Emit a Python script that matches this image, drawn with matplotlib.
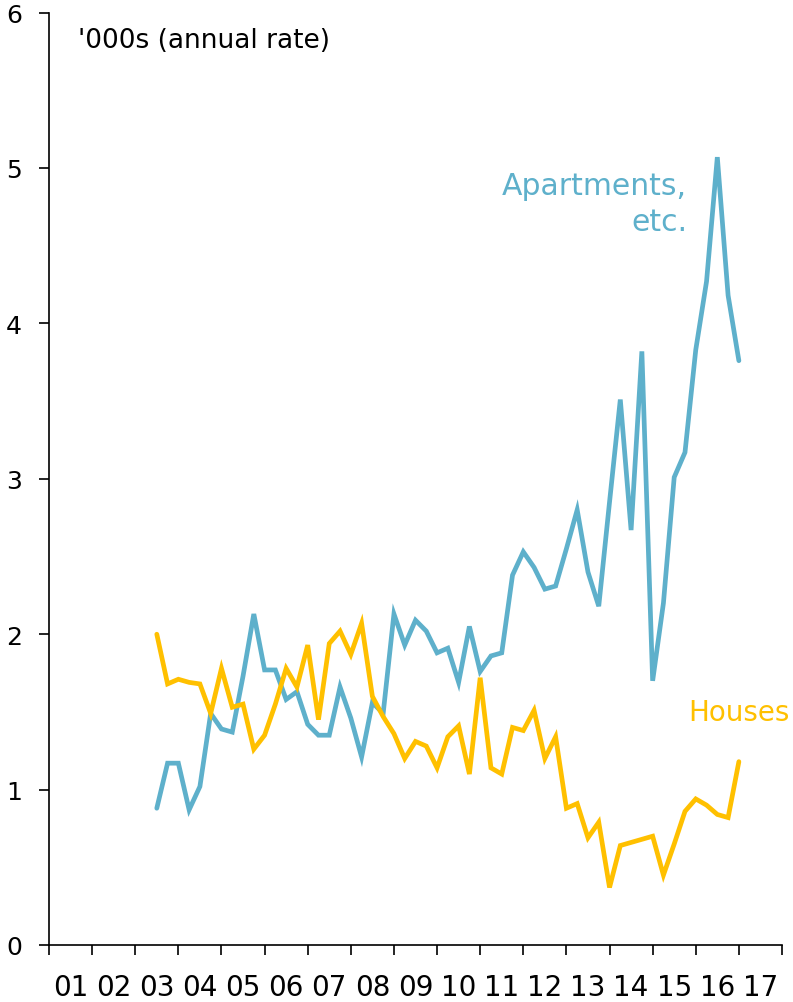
import numpy as np
import matplotlib.pyplot as plt

# quarterly data, 2003 Q3 .. 2017 Q1
apartments = [0.88, 1.17, 1.17, 0.87, 1.02, 1.49, 1.39, 1.37, 1.73, 2.13,
              1.77, 1.77, 1.58, 1.63, 1.42, 1.35, 1.35, 1.66, 1.46, 1.21,
              1.56, 1.49, 2.13, 1.93, 2.09, 2.02, 1.88, 1.91, 1.69, 2.05,
              1.76, 1.86, 1.88, 2.38, 2.53, 2.43, 2.29, 2.31, 2.55, 2.80,
              2.40, 2.18, 2.85, 3.51, 2.67, 3.82, 1.70, 2.20, 3.01, 3.17,
              3.83, 4.27, 5.07, 4.18, 3.76]
houses = [2.00, 1.68, 1.71, 1.69, 1.68, 1.49, 1.78, 1.53, 1.55, 1.26,
          1.35, 1.55, 1.78, 1.66, 1.93, 1.45, 1.94, 2.02, 1.87, 2.07,
          1.60, 1.47, 1.36, 1.20, 1.31, 1.28, 1.14, 1.34, 1.41, 1.10,
          1.72, 1.14, 1.10, 1.40, 1.38, 1.51, 1.20, 1.34, 0.88, 0.91,
          0.69, 0.79, 0.37, 0.64, 0.66, 0.68, 0.70, 0.45, 0.65, 0.86,
          0.94, 0.90, 0.84, 0.82, 1.18]
years = list(range(2001, 2018))
year_labels = ['%02d' % (y % 100) for y in years]

t = 2003.5 + 0.25 * np.arange(len(apartments))

BLUE = '#5EB0CB'
YELLOW = '#FFC000'

fig = plt.figure(figsize=(7.93, 10.03), dpi=100)
ax = fig.add_axes([49/793, 57/1003, 733/793, 932.4/1003])

ax.plot(t, apartments, color=BLUE, lw=3.4, solid_capstyle='round', solid_joinstyle='miter')
ax.plot(t, houses, color=YELLOW, lw=3.4, solid_capstyle='round', solid_joinstyle='miter')

ax.set_xlim(2001, 2018)
ax.set_ylim(0, 6)

for s in ['top', 'right']:
    ax.spines[s].set_visible(False)
for s in ['left', 'bottom']:
    ax.spines[s].set_linewidth(1.2)

ax.set_yticks(range(0, 7))
ax.tick_params(axis='y', length=7.5, width=1.2, labelsize=18, pad=12)

ax.set_xticks(range(2001, 2019))
ax.set_xticklabels([])
ax.set_xticks([y + 0.5 for y in years], minor=True)
ax.set_xticklabels(year_labels, minor=True, fontsize=20)
ax.tick_params(axis='x', which='major', length=7.5, width=1.2)
ax.tick_params(axis='x', which='minor', length=0, pad=20)

ax.text((78 - 49)/733, 1 - 27/932, "'000s (annual rate)", transform=ax.transAxes,
        fontsize=19, va='center', ha='left')
ax.text(2015.80, 4.77, 'Apartments,\netc.', color=BLUE, fontsize=21.5,
        ha='right', va='center', linespacing=1.3, multialignment='right')
ax.text(2015.82, 1.5, 'Houses', color=YELLOW, fontsize=20, ha='left', va='center')

fig.savefig('out.png', dpi=100)
